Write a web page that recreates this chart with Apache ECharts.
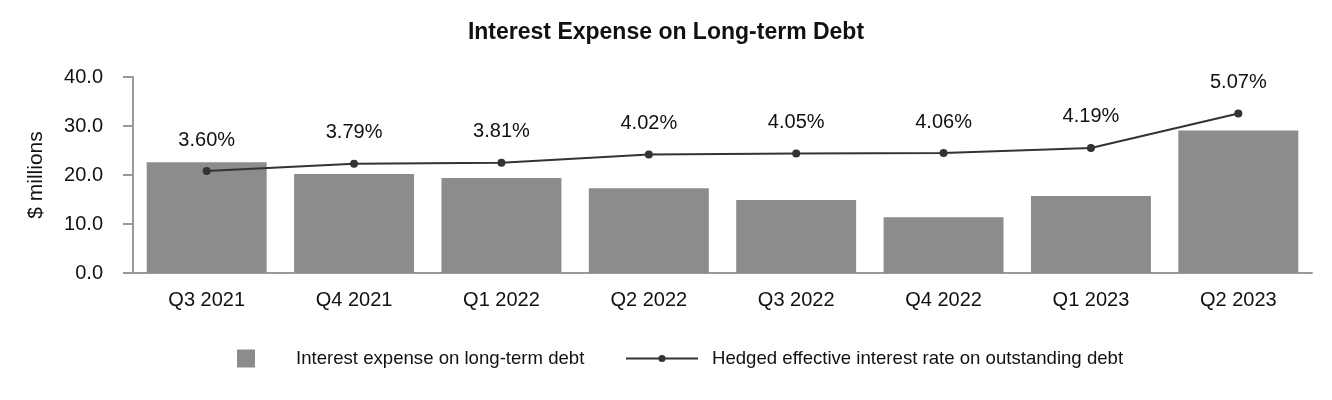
<!DOCTYPE html>
<html><head><meta charset="utf-8">
<script src="https://cdn.jsdelivr.net/npm/echarts@6/dist/echarts.min.js"></script>
<style>html,body{margin:0;padding:0;background:#fff}#c{width:1332px;height:400px}</style>
</head><body><div id="c"></div>
<script>
var categories = ['Q3 2021','Q4 2021','Q1 2022','Q2 2022','Q3 2022','Q4 2022','Q1 2023','Q2 2023'];
var interestExpense = [22.6, 20.2, 19.4, 17.3, 14.9, 11.4, 15.7, 29.1];
var effectiveRate = [3.60, 3.79, 3.81, 4.02, 4.05, 4.06, 4.19, 5.07];
var yTicks = [0, 10, 20, 30, 40];

var font = 'Liberation Sans, Arial, sans-serif';
var chart = echarts.init(document.getElementById('c'), null, {renderer:'canvas'});
chart.setOption({
  animation:false,
  title:{text:'Interest Expense on Long-term Debt', left:'center', top:21, padding:0,
    textStyle:{fontFamily:font, fontWeight:'bold', fontSize:23, color:'#111'}},
  grid:{left:133, right:20, top:77, bottom:127},
  legend:[
    {data:[{name:'Interest expense on long-term debt', icon:'rect'}], left:237, top:349, padding:0,
     itemWidth:18, itemHeight:18, itemGap:0,
     textStyle:{fontFamily:font, fontSize:18.6, color:'#111', padding:[0,0,0,36]}},
    {data:[{name:'Hedged effective interest rate on outstanding debt'}], left:625, top:349, padding:0,
     itemWidth:72, itemHeight:9, itemGap:0,
     textStyle:{fontFamily:font, fontSize:18.6, color:'#111', padding:[0,0,0,9]}}
  ],
  xAxis:{type:'category', data:categories,
    axisLine:{lineStyle:{color:'#999', width:2}},
    axisTick:{alignWithLabel:true, length:10, lineStyle:{color:'#999', width:2}},
    axisLabel:{fontFamily:font, fontSize:20, color:'#111', margin:17}},
  yAxis:[
    {type:'value', min:yTicks[0], max:yTicks[yTicks.length-1], interval:10,
     name:'$ millions', nameLocation:'middle', nameGap:86,
     nameTextStyle:{fontFamily:font, fontSize:21, color:'#111'},
     axisLine:{show:true, lineStyle:{color:'#999', width:2}},
     axisTick:{show:true, length:10, lineStyle:{color:'#999', width:2}},
     splitLine:{show:false},
     axisLabel:{fontFamily:font, fontSize:20, color:'#111', margin:30,
       formatter:function(v){return v.toFixed(1);}}},
    {type:'value', min:1, max:6, show:false, splitLine:{show:false}}
  ],
  series:[
    {name:'Interest expense on long-term debt', type:'bar', data:interestExpense,
     barCategoryGap:'18.6%', itemStyle:{color:'#8c8c8c'}},
    {name:'Hedged effective interest rate on outstanding debt', type:'line', yAxisIndex:1,
     data:effectiveRate, symbol:'circle', symbolSize:8,
     lineStyle:{color:'#333', width:2}, itemStyle:{color:'#333'},
     label:{show:true, position:'top', distance:17, fontFamily:font, fontSize:20, color:'#111',
       formatter:function(p){return p.value.toFixed(2)+'%';}}}
  ]
});
</script></body></html>
